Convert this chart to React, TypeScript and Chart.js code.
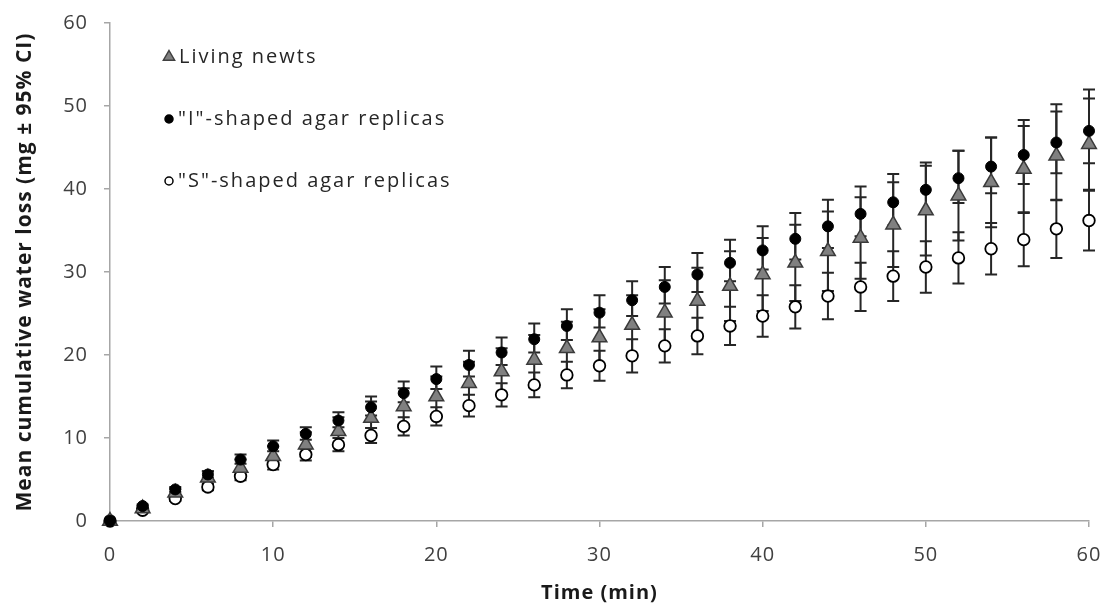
import React, { useEffect, useRef } from 'react';
import { Chart, registerables } from 'chart.js';

Chart.register(...registerables);

// ---- data (time in min, mean cumulative water loss in mg, 95% CI half widths) ----
const times = [0, 2, 4, 6, 8, 10, 12, 14, 16, 18, 20, 22, 24, 26, 28, 30, 32, 34, 36, 38, 40, 42, 44, 46, 48, 50, 52, 54, 56, 58, 60];

const newtsMean = [0, 1.5, 3.4, 5.2, 6.4, 7.8, 9.2, 10.8, 12.4, 13.8, 15.0, 16.6, 18.0, 19.4, 20.8, 22.1, 23.6, 25.1, 26.5, 28.3, 29.7, 31.1, 32.5, 34.1, 35.7, 37.4, 39.2, 40.8, 42.4, 44.0, 45.4];
const newtsCI = [0, 0.3, 0.5, 0.8, 1.0, 1.2, 1.5, 1.7, 2.0, 2.2, 2.4, 2.6, 2.8, 3.0, 3.2, 3.4, 3.6, 3.9, 4.0, 4.2, 4.4, 4.6, 4.8, 4.9, 5.1, 5.4, 5.4, 5.4, 5.2, 5.35, 5.5];

const iMean = [0, 1.8, 3.8, 5.6, 7.4, 9.0, 10.5, 12.1, 13.7, 15.4, 17.1, 18.8, 20.3, 21.9, 23.5, 25.1, 26.6, 28.2, 29.7, 31.1, 32.6, 34.0, 35.5, 37.0, 38.4, 39.9, 41.3, 42.7, 44.1, 45.6, 47.0];
const iCIPlus = [0, 0.2, 0.3, 0.4, 0.6, 0.7, 0.8, 1.0, 1.3, 1.4, 1.5, 1.7, 1.8, 1.9, 2.0, 2.1, 2.3, 2.4, 2.6, 2.8, 2.9, 3.1, 3.2, 3.3, 3.4, 3.3, 3.3, 3.5, 4.2, 4.6, 5.0];
const iCIMinus = [0, 0.2, 0.3, 0.4, 0.5, 0.6, 0.7, 0.8, 1.0, 1.1, 1.2, 1.4, 1.5, 1.6, 1.7, 1.8, 1.9, 2.0, 2.1, 2.2, 2.3, 2.5, 2.6, 2.7, 2.8, 2.9, 3.0, 3.2, 3.5, 3.7, 3.9];

const sMean = [0, 1.3, 2.7, 4.1, 5.4, 6.8, 8.0, 9.2, 10.3, 11.4, 12.6, 13.9, 15.2, 16.4, 17.6, 18.7, 19.9, 21.1, 22.3, 23.5, 24.7, 25.8, 27.1, 28.2, 29.5, 30.6, 31.7, 32.8, 33.9, 35.2, 36.2];
const sCI = [0, 0.2, 0.3, 0.4, 0.5, 0.6, 0.7, 0.8, 0.9, 1.1, 1.1, 1.3, 1.4, 1.5, 1.6, 1.8, 2.0, 2.0, 2.2, 2.3, 2.5, 2.6, 2.8, 2.9, 3.0, 3.1, 3.1, 3.1, 3.2, 3.5, 3.6];

const seriesLabels = ['Living newts', '"I"-shaped agar replicas', '"S"-shaped agar replicas'];
const xTicks = [0, 10, 20, 30, 40, 50, 60];
const yTicks = [0, 10, 20, 30, 40, 50, 60];
const xTitle = 'Time (min)';
const yTitle = 'Mean cumulative water loss (mg ± 95% CI)';

const FONT = "'Open Sans', 'DejaVu Sans', sans-serif";
const AXIS_GREY = '#a6a6a6';

const toPoints = (ys: number[]) => times.map((t, i) => ({ x: t, y: ys[i] }));

export default function App() {
  const ref = useRef<HTMLCanvasElement>(null);

  useEffect(() => {
    const canvas = ref.current;
    if (!canvas) return;

    const errorSets = [
      { mean: newtsMean, plus: newtsCI, minus: newtsCI },
      { mean: iMean, plus: iCIPlus, minus: iCIMinus },
      { mean: sMean, plus: sCI, minus: sCI },
    ];

    const spacing = {
      id: 'spacing',
      beforeDraw(chart: any) {
        (chart.ctx as any).letterSpacing = '1px';
      },
    };

    const errorBars = {
      id: 'errorBars',
      beforeDatasetsDraw(chart: any) {
        const { ctx, scales } = chart;
        const xs = scales.x;
        const ys = scales.y;
        ctx.save();
        ctx.strokeStyle = '#262626';
        ctx.lineWidth = 2;
        const cap = 6;
        errorSets.forEach((s) => {
          times.forEach((t, i) => {
            if (s.plus[i] === 0 && s.minus[i] === 0) return;
            const px = xs.getPixelForValue(t);
            const top = ys.getPixelForValue(s.mean[i] + s.plus[i]);
            const bot = ys.getPixelForValue(s.mean[i] - s.minus[i]);
            ctx.beginPath();
            ctx.moveTo(px, top);
            ctx.lineTo(px, bot);
            ctx.moveTo(px - cap, top);
            ctx.lineTo(px + cap, top);
            ctx.moveTo(px - cap, bot);
            ctx.lineTo(px + cap, bot);
            ctx.stroke();
          });
        });
        ctx.restore();
      },
    };

    const legendMarkers = [
      { style: 'triangle', fill: '#808080', stroke: '#404040', r: 6.5 },
      { style: 'circle', fill: '#000000', stroke: '#000000', r: 4 },
      { style: 'circle', fill: '#ffffff', stroke: '#000000', r: 4 },
    ];

    const customLegend = {
      id: 'customLegend',
      afterDraw(chart: any) {
        const { ctx, chartArea } = chart;
        ctx.save();
        const mx = chartArea.left + 59;
        const rows = [34, 96, 158];
        legendMarkers.forEach((m, i) => {
          const cy = chartArea.top + rows[i];
          ctx.beginPath();
          if (m.style === 'triangle') {
            const r = m.r;
            ctx.moveTo(mx, cy - r);
            ctx.lineTo(mx + r * 0.866, cy + r * 0.5);
            ctx.lineTo(mx - r * 0.866, cy + r * 0.5);
            ctx.closePath();
          } else {
            ctx.arc(mx, cy, m.r, 0, Math.PI * 2);
          }
          ctx.fillStyle = m.fill;
          ctx.fill();
          ctx.lineWidth = 1.5;
          ctx.strokeStyle = m.stroke;
          ctx.stroke();
          ctx.fillStyle = '#262626';
          ctx.font = `20px ${FONT}`;
          ctx.letterSpacing = '2px';
          ctx.textBaseline = 'middle';
          ctx.textAlign = 'left';
          ctx.fillText(seriesLabels[i], mx + (m.style === 'triangle' ? 10 : 9), cy);
        });
        ctx.restore();
      },
    };

    const chart = new Chart(canvas, {
      type: 'scatter',
      data: {
        datasets: [
          {
            label: seriesLabels[0],
            data: toPoints(newtsMean),
            pointStyle: 'triangle',
            pointRadius: 8.5,
            backgroundColor: '#808080',
            borderColor: '#3a3a3a',
            borderWidth: 1.5,
            order: 2,
            clip: false,
          },
          {
            label: seriesLabels[1],
            data: toPoints(iMean),
            pointStyle: 'circle',
            pointRadius: 5.5,
            backgroundColor: '#000000',
            borderColor: '#000000',
            borderWidth: 1,
            order: 1,
            clip: false,
          },
          {
            label: seriesLabels[2],
            data: toPoints(sMean),
            pointStyle: 'circle',
            pointRadius: 5.8,
            backgroundColor: '#ffffff',
            borderColor: '#000000',
            borderWidth: 1.8,
            order: 3,
            clip: false,
          },
        ],
      },
      options: {
        animation: false,
        responsive: false,
        events: [],
        layout: { padding: { top: 23, right: 20, left: 0, bottom: 0 } },
        plugins: {
          legend: { display: false },
          tooltip: { enabled: false },
          title: { display: false },
        },
        scales: {
          x: {
            type: 'linear',
            min: 0,
            max: 60,
            afterFit(scale: any) {
              scale.height = 86;
              scale.paddingLeft = 0;
              scale.paddingRight = 0;
            },
            afterBuildTicks(scale: any) {
              scale.ticks = xTicks.map((v) => ({ value: v }));
            },
            border: { display: true, color: AXIS_GREY, width: 1.5 },
            grid: { display: true, drawOnChartArea: false, drawTicks: true, tickLength: 6, color: AXIS_GREY, lineWidth: 1.5 },
            ticks: { color: '#404040', font: { family: FONT, size: 20 }, padding: 16, maxRotation: 0 },
            title: { display: true, text: xTitle, color: '#1a1a1a', font: { family: FONT, size: 20, weight: 'bold' }, padding: { top: 0, bottom: 2 } },
          },
          y: {
            type: 'linear',
            min: 0,
            max: 60,
            afterFit(scale: any) {
              scale.width = 110;
              scale.paddingTop = 0;
              scale.paddingBottom = 0;
            },
            afterBuildTicks(scale: any) {
              scale.ticks = yTicks.map((v) => ({ value: v }));
            },
            border: { display: true, color: AXIS_GREY, width: 1.5 },
            grid: { display: true, drawOnChartArea: false, drawTicks: true, tickLength: 6, color: AXIS_GREY, lineWidth: 1.5 },
            ticks: { color: '#404040', font: { family: FONT, size: 20 }, padding: 16 },
            title: { display: true, text: yTitle, color: '#1a1a1a', font: { family: FONT, size: 21, weight: 'bold' }, padding: { top: 12, bottom: 0 } },
          },
        },
      },
      plugins: [spacing, errorBars, customLegend],
    });

    return () => chart.destroy();
  }, []);

  return (
    <div style={{ position: 'absolute', left: 0, top: 0, width: 1109, height: 607, background: '#ffffff' }}>
      <canvas ref={ref} width={1109} height={607} style={{ display: 'block' }} />
    </div>
  );
}
